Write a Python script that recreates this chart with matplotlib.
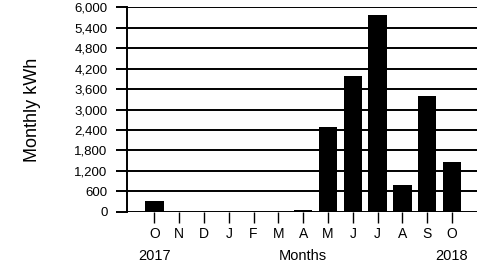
import matplotlib
matplotlib.use("Agg")
import matplotlib.pyplot as plt

months = ["O", "N", "D", "J", "F", "M", "A", "M", "J", "J", "A", "S", "O"]
kwh = [320, 0, 0, 0, 0, 0, 40, 2480, 3980, 5770, 790, 3390, 1470]
yticks = [0, 600, 1200, 1800, 2400, 3000, 3600, 4200, 4800, 5400, 6000]
year_labels = ["2017", "2018"]

plt.rcParams['font.family'] = ['Liberation Sans', 'DejaVu Sans']
fig = plt.figure(figsize=(4.89, 2.64), dpi=100)
ax = fig.add_axes([0.26, 0.198, 0.715, 0.774])

x = list(range(len(months)))
ax.bar(x, kwh, width=0.74, color="black", zorder=3)

ax.set_ylim(0, 6000)
ax.set_xlim(-1.1, 13.0)
ax.set_yticks(yticks)
ax.set_yticklabels([f"{v:,}" for v in yticks], fontsize=9.5)
ax.set_xticks(x)
ax.set_xticklabels(months, fontsize=10)
ax.grid(axis="y", color="black", linewidth=1.4, zorder=1)
ax.tick_params(axis="y", length=8, width=1.4, pad=6, color="black")
ax.tick_params(axis="x", length=8, width=1.0, pad=3, color="black")
for s in ["top", "right", "bottom"]:
    ax.spines[s].set_visible(False)
ax.spines["left"].set_linewidth(1.4)
ax.set_ylabel("Monthly kWh", fontsize=13, labelpad=24)

trans = ax.get_xaxis_transform()
ax.text(0, -0.215, year_labels[0], transform=trans, ha="center", va="center", fontsize=10.5)
ax.text(12, -0.215, year_labels[1], transform=trans, ha="center", va="center", fontsize=10.5)
ax.text(6, -0.215, "Months", transform=trans, ha="center", va="center", fontsize=10.5)

fig.savefig("out.png", dpi=100)
